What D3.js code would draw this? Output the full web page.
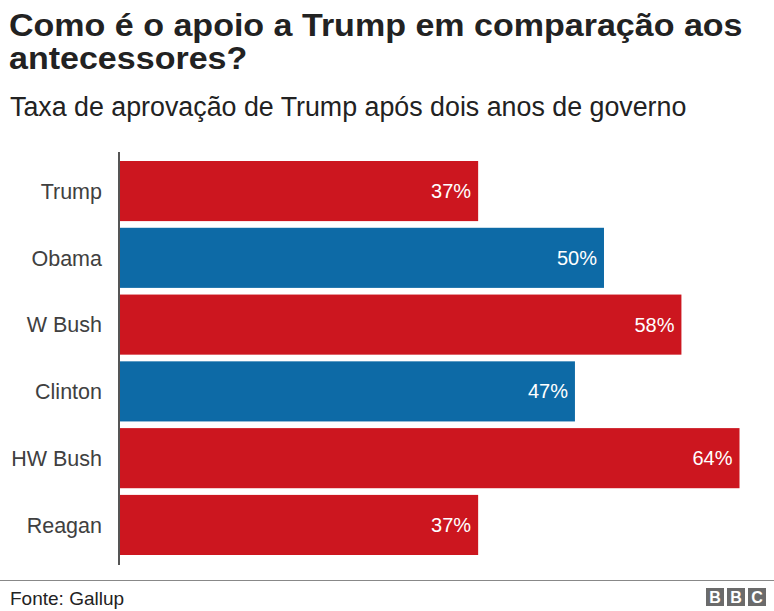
<!DOCTYPE html>
<html><head><meta charset="utf-8">
<script src="https://cdn.jsdelivr.net/npm/d3@7"></script>
<style>body{margin:0;background:#fff}svg{display:block}</style>
</head><body>
<script>
const categories = ["Trump","Obama","W Bush","Clinton","HW Bush","Reagan"];
const values = [37,50,58,47,64,37];
const parties = ["R","D","R","D","R","R"];
const title = ["Como é o apoio a Trump em comparação aos","antecessores?"];
const subtitle = "Taxa de aprovação de Trump após dois anos de governo";
const source = "Fonte: Gallup";

const W=774,H=611;
const font="'Liberation Sans', Arial, Helvetica, sans-serif";
const svg=d3.select("body").append("svg").attr("width",W).attr("height",H);
const colors={R:"#cc161f",D:"#0d6aa6"};

svg.selectAll("text.title").data(title).join("text")
 .attr("x",9).attr("y",(d,i)=>36+i*33)
 .attr("font-family",font).attr("font-weight","bold").attr("font-size",31.5)
 .attr("fill","#222").text(d=>d)
 .each(function(){const w=this.getComputedTextLength();
   d3.select(this).attr("textLength",w*1.08).attr("lengthAdjust","spacingAndGlyphs");});
svg.append("text").attr("x",10).attr("y",116).attr("font-family",font)
 .attr("font-size",26.8).attr("fill","#222").text(subtitle);

const x=d3.scaleLinear().domain([0,64]).range([120,739.5]);
const y=d3.scaleBand().domain(categories).range([161,555]).paddingInner(0.1).paddingOuter(0);

const data=categories.map((c,i)=>({c,v:values[i],p:parties[i]}));
svg.selectAll("rect.bar").data(data).join("rect")
 .attr("x",x(0)).attr("y",d=>y(d.c)).attr("width",d=>x(d.v)-x(0)).attr("height",y.bandwidth())
 .attr("fill",d=>colors[d.p]);
svg.selectAll("text.val").data(data).join("text")
 .attr("x",d=>x(d.v)-7).attr("y",d=>y(d.c)+y.bandwidth()/2+7)
 .attr("text-anchor","end").attr("font-family",font).attr("font-size",20).attr("fill","#fff")
 .text(d=>d.v+"%");

const yAxis=d3.axisLeft(y).tickSize(0).tickPadding(17);
const ga=svg.append("g").attr("transform","translate(119,0)").call(yAxis);
ga.select(".domain").remove();
ga.selectAll("text").attr("font-family",font).attr("font-size",21.5).attr("fill","#404040").attr("dy","0.36em");
svg.append("line").attr("x1",119).attr("x2",119).attr("y1",152).attr("y2",565)
 .attr("stroke","#555").attr("stroke-width",2);

svg.append("line").attr("x1",0).attr("x2",W).attr("y1",580.5).attr("y2",580.5).attr("stroke","#888").attr("stroke-width",1.2);
svg.append("text").attr("x",10).attr("y",605).attr("font-family",font).attr("font-size",19).attr("fill","#222").text(source);
const bbc=["B","B","C"];
const g=svg.append("g");
g.selectAll("rect").data(bbc).join("rect").attr("x",(d,i)=>706+i*21).attr("y",588).attr("width",18).attr("height",18).attr("fill","#6b6b6b");
g.selectAll("text").data(bbc).join("text").attr("x",(d,i)=>706+i*21+9).attr("y",603).attr("text-anchor","middle")
 .attr("font-family",font).attr("font-weight","bold").attr("font-size",16).attr("fill","#fff").text(d=>d);
</script>
</body></html>
